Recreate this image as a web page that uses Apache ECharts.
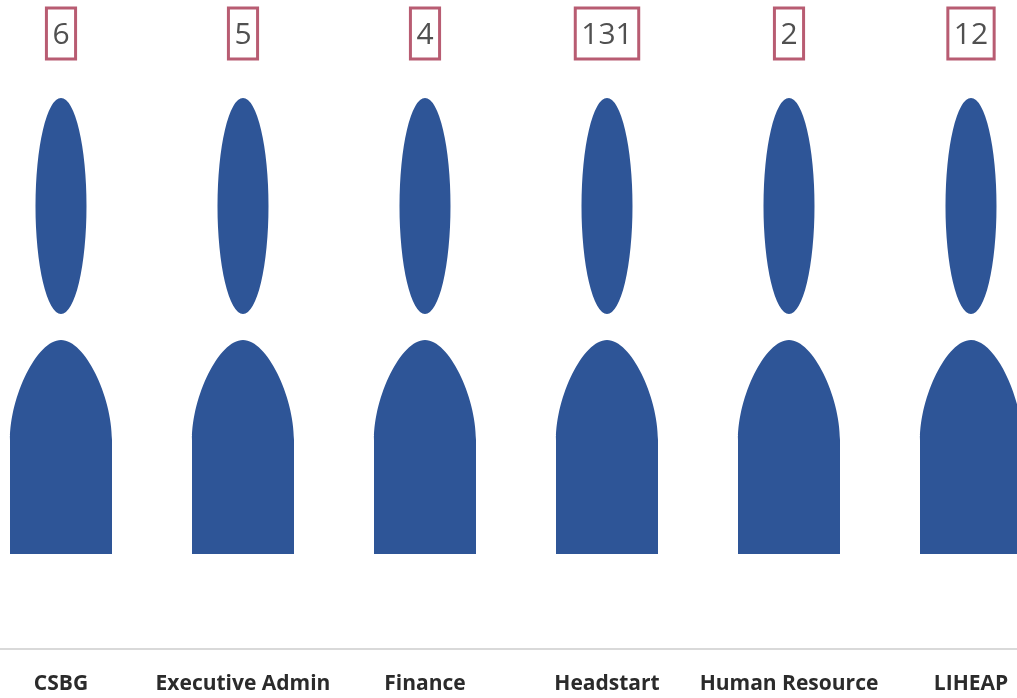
<!DOCTYPE html>
<html>
<head>
<meta charset="utf-8">
<style>html,body{margin:0;padding:0;background:#fff;overflow:hidden}#c{width:1017px;height:698px}</style>
<script src="https://cdn.jsdelivr.net/npm/echarts@6/dist/echarts.min.js"></script>
</head>
<body>
<div id="c"></div>
<script>
const categories = ['CSBG', 'Executive Admin', 'Finance', 'Headstart', 'Human Resource', 'LIHEAP'];
const counts = [6, 5, 4, 131, 2, 12];
const figureFill = [100, 100, 100, 100, 100, 100];
const personIcon = 'path://M51 0A25.5 108 0 1 1 50.99 0ZM0 456L0 342C0 298 27 242 51 242C75 242 102 298 102 342L102 456Z';

const chart = echarts.init(document.getElementById('c'), null, { renderer: 'canvas' });
chart.setOption({
  animation: false,
  backgroundColor: '#ffffff',
  grid: { left: -30, top: 98, width: 1092, height: 551, containLabel: false, outerBoundsMode: 'none' },
  xAxis: {
    type: 'category',
    data: categories,
    axisLine: { show: true, lineStyle: { color: '#d9d9d9', width: 2 } },
    axisTick: { show: false },
    axisLabel: {
      interval: 0, margin: 25, fontFamily: 'Open Sans', fontWeight: 'bold', fontSize: 21, color: '#2b2b2b'
    }
  },
  yAxis: { type: 'value', min: 0, max: 100, show: false },
  series: [{
    type: 'pictorialBar',
    data: figureFill,
    symbol: personIcon,
    symbolSize: [102, 456],
    symbolPosition: 'end',
    itemStyle: { color: '#2e5597' },
    label: {
      show: true,
      position: 'top',
      distance: 39,
      formatter: p => String(counts[p.dataIndex]),
      fontFamily: 'Open Sans',
      fontSize: 30,
      color: '#505050',
      lineHeight: 48,
      padding: [3, 6, 0, 6],
      borderColor: '#b85c72',
      borderWidth: 3
    }
  }]
});
</script>
</body>
</html>
